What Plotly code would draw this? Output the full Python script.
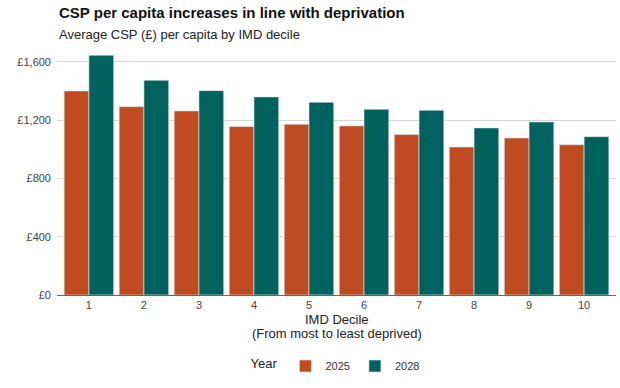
import plotly.graph_objects as go

deciles = [1, 2, 3, 4, 5, 6, 7, 8, 9, 10]
tick_labels = ["1", "2", "3", "4", "5", "6", "7", "8", "9", "10"]
csp_2025 = [1401, 1293, 1264, 1156, 1172, 1161, 1101, 1016, 1078, 1032]
csp_2028 = [1646, 1474, 1403, 1360, 1323, 1275, 1268, 1147, 1188, 1087]
y_ticks = [0, 400, 800, 1200, 1600]
y_tick_labels = ["£0", "£400", "£800", "£1,200", "£1,600"]

FONT = "Liberation Sans, Arial, sans-serif"
ORANGE = "#C04B20"
TEAL = "#00625E"

fig = go.Figure()
fig.add_trace(go.Bar(x=deciles, y=csp_2025, name="2025", marker_color=ORANGE,
                     marker_line=dict(color="rgba(225,225,225,0.9)", width=0.7)))
fig.add_trace(go.Bar(x=deciles, y=csp_2028, name="2028", marker_color=TEAL,
                     marker_line=dict(color="rgba(225,225,225,0.9)", width=0.7)))

H = 252.0  # plot height in px

def py(pix):
    """paper y for a pixel row (plot bottom at 295)"""
    return (295 - pix) / H

fig.update_layout(
    width=620, height=388,
    margin=dict(l=57, r=4, t=43, b=93),
    paper_bgcolor="white", plot_bgcolor="white",
    font=dict(family=FONT, color="#333333"),
    barmode="group", bargap=0.1, bargroupgap=0,
    showlegend=True,
    legend=dict(orientation="h", x=0.5, xanchor="center", y=py(366), yanchor="middle",
                title=dict(text="Year", font=dict(size=13, color="#222222")),
                font=dict(size=11, color="#333333"), itemwidth=30,
                traceorder="normal"),
    xaxis=dict(range=[0.42, 10.58], tickvals=deciles, ticktext=tick_labels,
               showgrid=False, showline=True, linecolor="#666666", linewidth=1,
               ticks="", tickfont=dict(size=11, color="#444444"),
               zeroline=False, fixedrange=True),
    yaxis=dict(range=[0, 1730], tickvals=y_ticks, ticktext=y_tick_labels,
               showgrid=True, gridcolor="#d6d6d6", gridwidth=1,
               zeroline=False, showline=False, ticks="",
               tickfont=dict(size=11, color="#444444"), ticklabelstandoff=5,
               fixedrange=True),
    annotations=[
        dict(text="<b>CSP per capita increases in line with deprivation</b>",
             xref="paper", yref="paper", x=0, y=py(12.5), xanchor="left", yanchor="middle",
             showarrow=False, font=dict(size=15, color="#111111", family=FONT)),
        dict(text="Average CSP (£) per capita by IMD decile",
             xref="paper", yref="paper", x=0, y=py(35), xanchor="left", yanchor="middle",
             showarrow=False, font=dict(size=13, color="#222222", family=FONT)),
        dict(text="IMD Decile",
             xref="paper", yref="paper", x=0.5, y=py(319), xanchor="center", yanchor="middle",
             showarrow=False, font=dict(size=13, color="#222222", family=FONT)),
        dict(text="(From most to least deprived)",
             xref="paper", yref="paper", x=0.5, y=py(333), xanchor="center", yanchor="middle",
             showarrow=False, font=dict(size=13, color="#222222", family=FONT)),
    ],
)

fig.write_html("out.html")
